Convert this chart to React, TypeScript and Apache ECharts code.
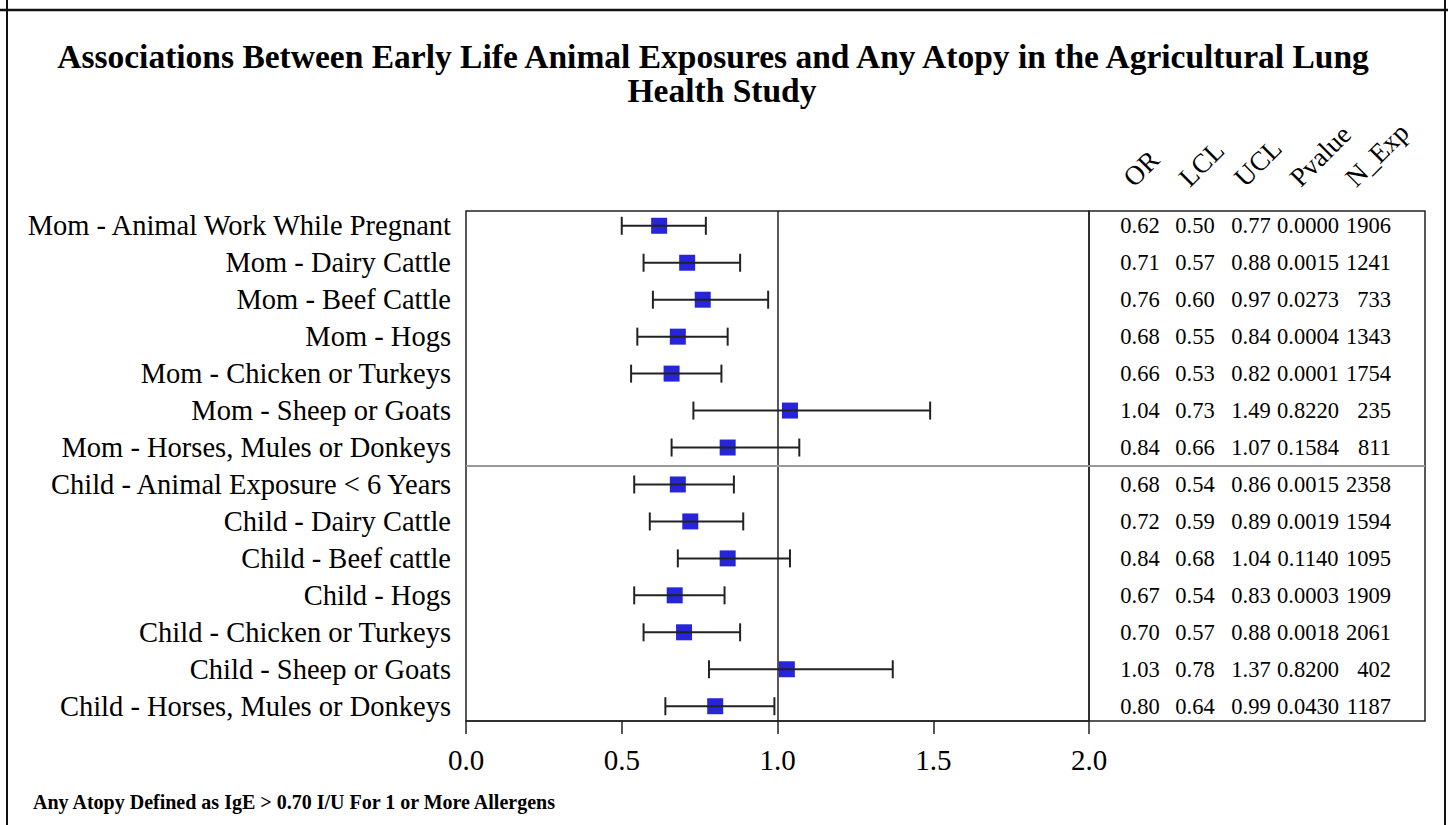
import React, { useEffect, useRef } from "react";
import * as echarts from "echarts";

const categories = [
  "Mom - Animal Work While Pregnant",
  "Mom - Dairy Cattle",
  "Mom - Beef Cattle",
  "Mom - Hogs",
  "Mom - Chicken or Turkeys",
  "Mom - Sheep or Goats",
  "Mom - Horses, Mules or Donkeys",
  "Child - Animal Exposure < 6 Years",
  "Child - Dairy Cattle",
  "Child - Beef cattle",
  "Child - Hogs",
  "Child - Chicken or Turkeys",
  "Child - Sheep or Goats",
  "Child - Horses, Mules or Donkeys",
];
const orValues = [0.62, 0.71, 0.76, 0.68, 0.66, 1.04, 0.84, 0.68, 0.72, 0.84, 0.67, 0.7, 1.03, 0.8];
const lclValues = [0.5, 0.57, 0.6, 0.55, 0.53, 0.73, 0.66, 0.54, 0.59, 0.68, 0.54, 0.57, 0.78, 0.64];
const uclValues = [0.77, 0.88, 0.97, 0.84, 0.82, 1.49, 1.07, 0.86, 0.89, 1.04, 0.83, 0.88, 1.37, 0.99];
const pValues = [0.0, 0.0015, 0.0273, 0.0004, 0.0001, 0.822, 0.1584, 0.0015, 0.0019, 0.114, 0.0003, 0.0018, 0.82, 0.043];
const nExp = [1906, 1241, 733, 1343, 1754, 235, 811, 2358, 1594, 1095, 1909, 2061, 402, 1187];
const tableHeaders = ["OR", "LCL", "UCL", "Pvalue", "N_Exp"];
const xTicks = [0, 0.5, 1, 1.5, 2];
const groupSplit = 6.5;
const refValue = 1;

const titleLine1 = "Associations Between Early Life Animal Exposures and Any Atopy in the Agricultural Lung";
const titleLine2 = "Health Study";
const footnote = "Any Atopy Defined as IgE > 0.70 I/U For 1 or More Allergens";

const SERIF = '"Liberation Serif", "Times New Roman", serif';

export default function App() {
  const ref = useRef<HTMLDivElement>(null);

  useEffect(() => {
    document.body.style.margin = "0";
    if (!ref.current) return;
    const chart = echarts.init(ref.current, undefined, { renderer: "svg" });

    const rowIdx = categories.map((_, i) => i);
    const tableData: number[][] = [];
    const tableTexts: string[] = [];
    rowIdx.forEach((i) => {
      const cols = [
        orValues[i].toFixed(2),
        lclValues[i].toFixed(2),
        uclValues[i].toFixed(2),
        pValues[i].toFixed(4),
        String(nExp[i]),
      ];
      cols.forEach((t, c) => {
        tableData.push([c, i]);
        tableTexts.push(t);
      });
    });
    const colDx = [12, 11.5, 12, 13.5, 41];
    const colAlign = ["center", "center", "center", "center", "right"];

    const yAxisBase = {
      type: "value",
      inverse: true,
      min: -0.4,
      max: 13.4,
      splitLine: { show: false },
      axisLine: { show: false, onZero: false },
      axisTick: { show: false },
    };

    const titleStyle = {
      fontFamily: SERIF,
      fontSize: 33.5,
      fontWeight: "bold",
      color: "#000",
      lineHeight: 34,
    };

    const option: any = {
      animation: false,
      backgroundColor: "#fff",
      title: [
        { text: titleLine1, left: 708, top: 34, textAlign: "center", textStyle: titleStyle },
        { text: titleLine2, left: 717, top: 68, textAlign: "center", textStyle: titleStyle },
      ],
      grid: [
        { left: 466, top: 211, width: 623, height: 510, show: true, borderColor: "#222", borderWidth: 1.5, backgroundColor: "transparent" },
        { left: 1089, top: 211, width: 336, height: 510, show: true, borderColor: "#222", borderWidth: 1.5, backgroundColor: "transparent" },
      ],
      xAxis: [
        {
          gridIndex: 0,
          type: "value",
          min: 0,
          max: 2,
          interval: 0.5,
          splitLine: { show: false },
          axisLine: { show: true, onZero: false, lineStyle: { color: "#222", width: 1.5 } },
          axisTick: { show: true, length: 13, lineStyle: { color: "#222", width: 1.5 }, customValues: xTicks },
          axisLabel: {
            customValues: xTicks,
            formatter: (v: number) => v.toFixed(1),
            fontFamily: SERIF,
            fontSize: 29,
            color: "#000",
            margin: 24,
          },
        },
        {
          gridIndex: 1,
          type: "value",
          min: -0.7027,
          max: 5.3514,
          splitLine: { show: false },
          axisLine: { show: false, onZero: false },
          axisTick: { show: false },
          axisLabel: { show: false },
        },
      ],
      yAxis: [
        {
          ...yAxisBase,
          gridIndex: 0,
          axisLabel: {
            customValues: rowIdx,
            formatter: (v: number) => categories[v] ?? "",
            fontFamily: SERIF,
            fontSize: 28.5,
            color: "#000",
            margin: 15,
          },
        },
        { ...yAxisBase, gridIndex: 1, axisLabel: { show: false } },
      ],
      series: [
        {
          type: "scatter",
          name: "OR",
          xAxisIndex: 0,
          yAxisIndex: 0,
          symbol: "rect",
          symbolSize: 16,
          itemStyle: { color: "#2626D8", opacity: 1 },
          data: rowIdx.map((i) => [orValues[i], i]),
          z: 2,
          markLine: {
            silent: true,
            symbol: "none",
            label: { show: false },
            data: [
              { xAxis: refValue, lineStyle: { color: "#222", width: 1.5, type: "solid" } },
              { yAxis: groupSplit, lineStyle: { color: "#999", width: 2, type: "solid" } },
            ],
          },
        },
        {
          type: "custom",
          name: "CI",
          xAxisIndex: 0,
          yAxisIndex: 0,
          z: 3,
          encode: { x: [1, 2], y: 0 },
          data: rowIdx.map((i) => [i, lclValues[i], uclValues[i]]),
          renderItem: (params: any, api: any) => {
            const r = api.value(0);
            const lo = api.coord([api.value(1), r]);
            const hi = api.coord([api.value(2), r]);
            const h = 9;
            const st = { stroke: "#222", lineWidth: 2 };
            return {
              type: "group",
              children: [
                { type: "line", shape: { x1: lo[0], y1: lo[1], x2: hi[0], y2: hi[1] }, style: st },
                { type: "line", shape: { x1: lo[0], y1: lo[1] - h, x2: lo[0], y2: lo[1] + h }, style: st },
                { type: "line", shape: { x1: hi[0], y1: hi[1] - h, x2: hi[0], y2: hi[1] + h }, style: st },
              ],
            };
          },
        },
        {
          type: "custom",
          name: "table",
          xAxisIndex: 1,
          yAxisIndex: 1,
          encode: { x: 0, y: 1 },
          data: tableData,
          renderItem: (params: any, api: any) => {
            const c = api.value(0);
            const r = api.value(1);
            const p = api.coord([c, r]);
            const al = colAlign[c];
            return {
              type: "text",
              x: p[0] + colDx[c],
              y: p[1],
              style: {
                text: tableTexts[params.dataIndex],
                fill: "#000",
                fontFamily: SERIF,
                fontSize: 22.5,
                align: al,
                textAlign: al,
                verticalAlign: "middle",
                textVerticalAlign: "middle",
              },
            };
          },
          markLine: {
            silent: true,
            symbol: "none",
            label: { show: false },
            data: [{ yAxis: groupSplit, lineStyle: { color: "#999", width: 2, type: "solid" } }],
          },
        },
        {
          type: "custom",
          name: "headers",
          xAxisIndex: 1,
          yAxisIndex: 1,
          clip: false,
          encode: { x: 0, y: 1 },
          data: tableHeaders.map((_, c) => [c, 0]),
          renderItem: (params: any, api: any) => {
            const p = api.coord([api.value(0), api.value(1)]);
            return {
              type: "text",
              x: p[0],
              y: p[1] - 44,
              rotation: Math.PI / 4,
              style: {
                text: tableHeaders[params.dataIndex],
                fill: "#000",
                fontFamily: SERIF,
                fontSize: 27,
                align: "left",
                textAlign: "left",
                verticalAlign: "middle",
                textVerticalAlign: "middle",
              },
            };
          },
        },
      ],
      graphic: [
        { type: "line", shape: { x1: 0, y1: 10, x2: 1448, y2: 10 }, style: { stroke: "#111", lineWidth: 2.5 } },
        { type: "line", shape: { x1: 7, y1: 0, x2: 7, y2: 825 }, style: { stroke: "#111", lineWidth: 2 } },
        { type: "line", shape: { x1: 1445, y1: 0, x2: 1445, y2: 825 }, style: { stroke: "#111", lineWidth: 2 } },
        {
          type: "text",
          x: 33,
          y: 802,
          style: {
            text: footnote,
            fill: "#000",
            font: `bold 20px ${SERIF}`,
            textVerticalAlign: "middle",
            verticalAlign: "middle",
          },
        },
      ],
    };

    chart.setOption(option);
    return () => chart.dispose();
  }, []);

  return <div ref={ref} style={{ width: 1448, height: 825 }} />;
}
